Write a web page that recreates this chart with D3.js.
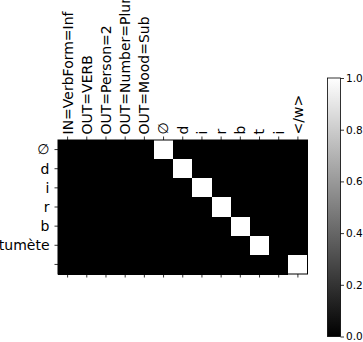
<!DOCTYPE html>
<html>
<head>
<meta charset="utf-8">
<script src="https://cdn.jsdelivr.net/npm/d3@7"></script>
<style>
  html, body { margin: 0; padding: 0; background: #fff; }
  svg { display: block; }
  text { font-family: "DejaVu Sans", sans-serif; fill: #000; }
</style>
</head>
<body>
<div id="chart"></div>
<script>
// Column (input/output) labels
const colLabels = ["IN=VerbForm=Inf", "OUT=VERB", "OUT=Person=2", "OUT=Number=Plur", "OUT=Mood=Sub",
                   "∅", "d", "i", "r", "b", "t", "i", "</w>"];
// Row labels
const rowLabels = ["∅", "d", "i", "r", "b", "tumète", ""];
// Attention weights, one array per row
const row0 = [0,0,0,0,0,1,0,0,0,0,0,0,0];
const row1 = [0,0,0,0,0,0,1,0,0,0,0,0,0];
const row2 = [0,0,0,0,0,0,0,1,0,0,0,0,0];
const row3 = [0,0,0,0,0,0,0,0,1,0,0,0,0];
const row4 = [0,0,0,0,0,0,0,0,0,1,0,0,0];
const row5 = [0,0,0,0,0,0,0,0,0,0,1,0,0];
const row6 = [0,0,0,0,0,0,0,0,0,0,0,0,1];
const weights = [row0, row1, row2, row3, row4, row5, row6];
// Colorbar ticks
const cbarTicks = [0.0, 0.2, 0.4, 0.6, 0.8, 1.0];

const W = 363, H = 342;
const svg = d3.select("#chart").append("svg").attr("width", W).attr("height", H);

const x = d3.scaleBand().domain(d3.range(colLabels.length)).range([58, 307.5]).padding(0);
const y = d3.scaleBand().domain(d3.range(rowLabels.length)).range([140, 274]).padding(0);
const color = d3.scaleLinear().domain([0, 1]).range(["#000000", "#ffffff"]);

const cells = [];
weights.forEach((r, i) => r.forEach((v, j) => cells.push({i, j, v})));

svg.append("g").selectAll("rect").data(cells).join("rect")
  .attr("x", d => x(d.j))
  .attr("y", d => y(d.i))
  .attr("width", x.bandwidth() + 0.5)
  .attr("height", y.bandwidth() + 0.5)
  .attr("fill", d => color(d.v))
  .attr("shape-rendering", "crispEdges");

// Frame
svg.append("rect")
  .attr("x", 58).attr("y", 140).attr("width", 249.5).attr("height", 134)
  .attr("fill", "none").attr("stroke", "#000").attr("stroke-width", 1);

// Top axis
const topAxis = d3.axisTop(x).tickSize(3.5).tickPadding(3).tickFormat(i => colLabels[i]);
const gTop = svg.append("g").attr("transform", "translate(0,140)").call(topAxis);
gTop.select(".domain").remove();
gTop.selectAll("text")
  .attr("font-size", 14)
  .attr("text-anchor", "start")
  .attr("transform", "rotate(-90)")
  .attr("x", 5.5)
  .attr("y", 0)
  .attr("dy", "0.35em");

// Bottom ticks (no labels)
const botAxis = d3.axisBottom(x).tickSize(3.5).tickFormat("");
const gBot = svg.append("g").attr("transform", "translate(0,274)").call(botAxis);
gBot.select(".domain").remove();

// Left axis
const leftAxis = d3.axisLeft(y).tickSize(3.5).tickPadding(5).tickFormat(i => rowLabels[i]);
const gLeft = svg.append("g").attr("transform", "translate(58,0)").call(leftAxis);
gLeft.select(".domain").remove();
gLeft.selectAll("text").attr("font-size", 14).attr("dy", "0.35em");

svg.selectAll(".tick line").attr("stroke", "#000").attr("stroke-width", 0.8);

// Colorbar
const cb = d3.scaleLinear().domain([0, 1]).range([336.5, 78]);
const defs = svg.append("defs");
const grad = defs.append("linearGradient").attr("id", "cbgrad")
  .attr("x1", 0).attr("y1", 1).attr("x2", 0).attr("y2", 0);
grad.append("stop").attr("offset", "0%").attr("stop-color", color(0));
grad.append("stop").attr("offset", "100%").attr("stop-color", color(1));
svg.append("rect")
  .attr("x", 327.5).attr("y", cb(1)).attr("width", 13).attr("height", cb(0) - cb(1))
  .attr("fill", "url(#cbgrad)").attr("stroke", "#000").attr("stroke-width", 0.8);
const cbAxis = d3.axisRight(cb).tickValues(cbarTicks).tickSize(3.5).tickPadding(2).tickFormat(d3.format(".1f"));
const gCb = svg.append("g").attr("transform", "translate(340.5,0)").call(cbAxis);
gCb.select(".domain").remove();
gCb.selectAll("text").attr("font-size", 10.5);
gCb.selectAll(".tick line").attr("stroke", "#000").attr("stroke-width", 0.8);
</script>
</body>
</html>
